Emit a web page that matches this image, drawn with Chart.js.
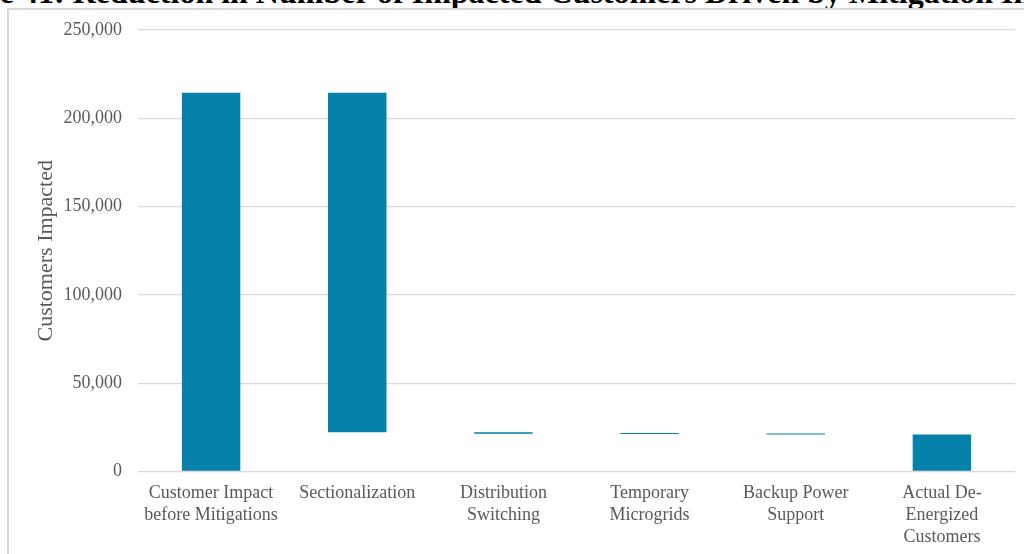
<!DOCTYPE html>
<html>
<head>
<meta charset="utf-8">
<script src="https://cdn.jsdelivr.net/npm/chart.js@4/dist/chart.umd.min.js"></script>
<style>
  html, body { margin: 0; padding: 0; background: #ffffff; overflow: hidden; }
  #page { position: relative; width: 1024px; height: 554px; overflow: hidden; }
  #caption {
    position: absolute; left: -76px; top: -24px;
    font: bold 32px "Liberation Serif", "Times New Roman", serif;
    line-height: 1; white-space: nowrap; color: #000;
  }
  #frame {
    position: absolute; left: 7px; top: 8px; width: 1040px; height: 570px;
    border: 2px solid #d9d9d9; box-sizing: border-box;
  }
  #wrap { position: absolute; left: 0; top: 0; width: 1024px; height: 554px; }
</style>
</head>
<body>
<div id="page">
  <div id="caption">Figure 41: Reduction in Number of Impacted Customers Driven by Mitigation Initiatives</div>
  <div id="frame"></div>
  <div id="wrap"><canvas id="chart" width="1024" height="554"></canvas></div>
</div>
<script>
// Waterfall steps: starting customer count, reductions per mitigation, remaining customers
const categories = [
  ["Customer Impact", "before Mitigations"],
  ["Sectionalization"],
  ["Distribution", "Switching"],
  ["Temporary", "Microgrids"],
  ["Backup Power", "Support"],
  ["Actual De-", "Energized", "Customers"]
];
const customersBefore = 214500;
const mitigationReductions = [192300, 800, 200, 200];
const customersDeEnergized = 21000;
const yTickValues = [0, 50000, 100000, 150000, 200000, 250000];

// Floating bar ranges [low, high] for each step of the waterfall
const ranges = [[0, customersBefore]];
let running = customersBefore;
mitigationReductions.forEach(r => {
  ranges.push([running - r, running]);
  running -= r;
});
ranges.push([0, customersDeEnergized]);

const gray = '#595959';
const gridGray = '#d9d9d9';
const serif = '"Liberation Serif", "Times New Roman", serif';

new Chart(document.getElementById('chart'), {
  type: 'bar',
  data: {
    labels: categories,
    datasets: [{
      data: ranges,
      backgroundColor: '#0581aa',
      borderWidth: 0,
      categoryPercentage: 1,
      barPercentage: 0.4,
      minBarLength: 1
    }]
  },
  options: {
    responsive: false,
    animation: false,
    events: [],
    layout: { padding: { left: 0, right: 9, top: 30, bottom: 0 } },
    plugins: { legend: { display: false }, tooltip: { enabled: false } },
    scales: {
      x: {
        grid: { display: false, drawTicks: false },
        border: { display: false },
        ticks: {
          color: gray,
          font: { family: serif, size: 18, lineHeight: 1.22 },
          padding: 11,
          maxRotation: 0,
          autoSkip: false
        },
        afterFit: s => { s.height = 82.5; }
      },
      y: {
        min: 0,
        max: 250000,
        afterBuildTicks: s => { s.ticks = yTickValues.map(v => ({ value: v })); },
        grid: { color: gridGray, lineWidth: 1.3, drawTicks: false },
        border: { display: false },
        ticks: {
          color: gray,
          font: { family: serif, size: 18 },
          padding: 16,
          callback: v => v.toLocaleString('en-US')
        },
        title: {
          display: true,
          text: 'Customers Impacted',
          color: gray,
          font: { family: serif, size: 22 },
          padding: { top: 33, bottom: 0 }
        },
        afterFit: s => { s.width = 138; }
      }
    }
  }
});
</script>
</body>
</html>
